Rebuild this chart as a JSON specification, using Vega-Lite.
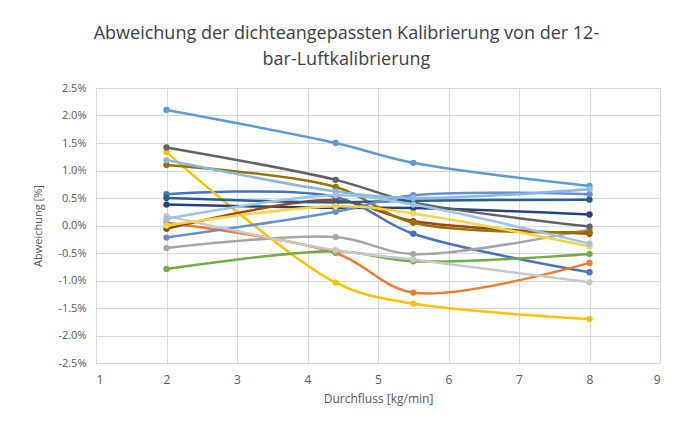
{
  "$schema": "https://vega.github.io/schema/vega-lite/v6.json",
  "width": 564,
  "height": 275,
  "autosize": {"type": "none"},
  "padding": {"left": 96, "top": 88, "right": 24, "bottom": 60},
  "background": "white",
  "config": {
    "font": "Open Sans",
    "view": {"stroke": "#D9D9D9"}
  },
  "title": {
    "text": ["Abweichung der dichteangepassten Kalibrierung von der 12-", "bar-Luftkalibrierung"],
    "fontSize": 18,
    "font": "Open Sans",
    "fontWeight": "normal",
    "color": "#404040",
    "anchor": "middle",
    "frame": "bounds",
    "lineHeight": 26,
    "offset": 13
  },
  "data": {
    "values": [
      {"s": "s01", "x": 2, "y": 0.57}, {"s": "s01", "x": 4.4, "y": 0.52}, {"s": "s01", "x": 5.5, "y": -0.15}, {"s": "s01", "x": 8, "y": -0.85},
      {"s": "s02", "x": 2, "y": 0.05}, {"s": "s02", "x": 4.4, "y": -0.5}, {"s": "s02", "x": 5.5, "y": -1.22}, {"s": "s02", "x": 8, "y": -0.68},
      {"s": "s03", "x": 2, "y": -0.41}, {"s": "s03", "x": 4.4, "y": -0.21}, {"s": "s03", "x": 5.5, "y": -0.52}, {"s": "s03", "x": 8, "y": -0.07},
      {"s": "s04", "x": 2, "y": 1.33}, {"s": "s04", "x": 4.4, "y": -1.04}, {"s": "s04", "x": 5.5, "y": -1.42}, {"s": "s04", "x": 8, "y": -1.7},
      {"s": "s05", "x": 2, "y": 2.1}, {"s": "s05", "x": 4.4, "y": 1.5}, {"s": "s05", "x": 5.5, "y": 1.14}, {"s": "s05", "x": 8, "y": 0.72},
      {"s": "s06", "x": 2, "y": -0.79}, {"s": "s06", "x": 4.4, "y": -0.47}, {"s": "s06", "x": 5.5, "y": -0.65}, {"s": "s06", "x": 8, "y": -0.52},
      {"s": "s07", "x": 2, "y": 0.38}, {"s": "s07", "x": 4.4, "y": 0.32}, {"s": "s07", "x": 5.5, "y": 0.32}, {"s": "s07", "x": 8, "y": 0.2},
      {"s": "s08", "x": 2, "y": -0.06}, {"s": "s08", "x": 4.4, "y": 0.46}, {"s": "s08", "x": 5.5, "y": 0.08}, {"s": "s08", "x": 8, "y": -0.15},
      {"s": "s09", "x": 2, "y": 1.42}, {"s": "s09", "x": 4.4, "y": 0.83}, {"s": "s09", "x": 5.5, "y": 0.42}, {"s": "s09", "x": 8, "y": -0.02},
      {"s": "s10", "x": 2, "y": 1.1}, {"s": "s10", "x": 4.4, "y": 0.7}, {"s": "s10", "x": 5.5, "y": 0.05}, {"s": "s10", "x": 8, "y": -0.12},
      {"s": "s11", "x": 2, "y": 0.5}, {"s": "s11", "x": 4.4, "y": 0.42}, {"s": "s11", "x": 5.5, "y": 0.45}, {"s": "s11", "x": 8, "y": 0.47},
      {"s": "s12", "x": 2, "y": -0.22}, {"s": "s12", "x": 4.4, "y": 0.25}, {"s": "s12", "x": 5.5, "y": 0.55}, {"s": "s12", "x": 8, "y": 0.57},
      {"s": "s13", "x": 2, "y": 1.19}, {"s": "s13", "x": 4.4, "y": 0.62}, {"s": "s13", "x": 5.5, "y": 0.5}, {"s": "s13", "x": 8, "y": 0.66},
      {"s": "s14", "x": 2, "y": 0.17}, {"s": "s14", "x": 4.4, "y": -0.45}, {"s": "s14", "x": 5.5, "y": -0.62}, {"s": "s14", "x": 8, "y": -1.03},
      {"s": "s15", "x": 2, "y": 0.0}, {"s": "s15", "x": 4.4, "y": 0.35}, {"s": "s15", "x": 5.5, "y": 0.22}, {"s": "s15", "x": 8, "y": -0.38},
      {"s": "s16", "x": 2, "y": 0.12}, {"s": "s16", "x": 4.4, "y": 0.55}, {"s": "s16", "x": 5.5, "y": 0.38}, {"s": "s16", "x": 8, "y": -0.33}
    ]
  },
  "encoding": {
    "x": {
      "field": "x",
      "type": "quantitative",
      "scale": {"domain": [1, 9], "nice": false, "zero": false},
      "axis": {
        "title": "Durchfluss [kg/min]",
        "values": [1, 2, 3, 4, 5, 6, 7, 8, 9],
        "grid": true,
        "gridColor": "#D9D9D9",
        "domain": false,
        "ticks": false,
        "labelFontSize": 12,
        "labelColor": "#595959",
        "labelPadding": 11,
        "titleFontSize": 12,
        "titleFontWeight": "normal",
        "titleColor": "#595959",
        "titlePadding": 8
      }
    },
    "y": {
      "field": "y",
      "type": "quantitative",
      "scale": {"domain": [-2.5, 2.5], "nice": false},
      "axis": {
        "title": "Abweichung [%]",
        "values": [-2.5, -2, -1.5, -1, -0.5, 0, 0.5, 1, 1.5, 2, 2.5],
        "labelExpr": "(datum.value < 0 ? '-' + format(-datum.value, '.1f') : format(datum.value, '.1f')) + '%'",
        "grid": true,
        "gridColor": "#D9D9D9",
        "domain": false,
        "ticks": false,
        "labelFontSize": 11,
        "labelColor": "#595959",
        "labelPadding": 10,
        "titleFontSize": 11,
        "titleFontWeight": "normal",
        "titleColor": "#595959",
        "titlePadding": 14
      }
    },
    "color": {
      "field": "s",
      "type": "nominal",
      "legend": null,
      "scale": {
        "domain": ["s01", "s02", "s03", "s04", "s05", "s06", "s07", "s08", "s09", "s10", "s11", "s12", "s13", "s14", "s15", "s16"],
        "range": ["#4472C4", "#ED7D31", "#A5A5A5", "#FFC000", "#5B9BD5", "#70AD47", "#264478", "#9E480E", "#636363", "#997300", "#255E91", "#698ED0", "#8AB8E3", "#C8C8C8", "#F5D547", "#9DC3E6"]
      }
    }
  },
  "layer": [
    {"mark": {"type": "line", "interpolate": "catmull-rom", "strokeWidth": 2.5}},
    {"mark": {"type": "point", "filled": true, "opacity": 1, "size": 40}}
  ]
}
